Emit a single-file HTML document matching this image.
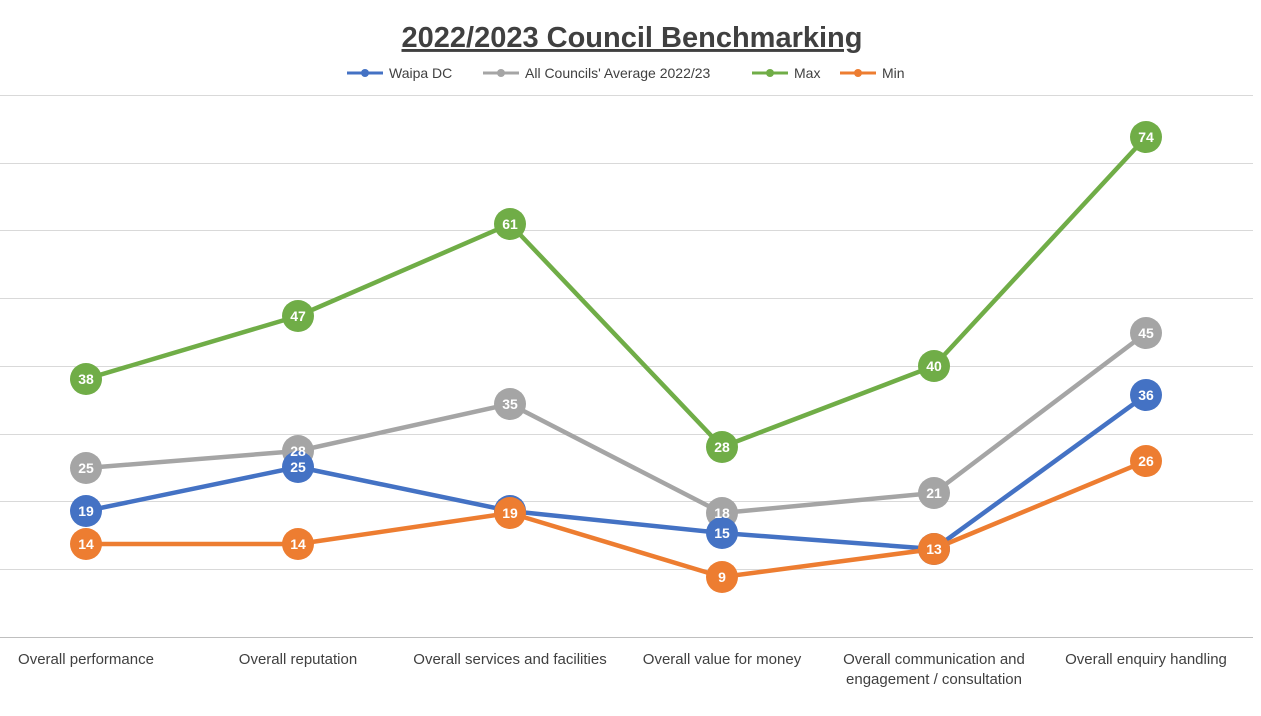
<!DOCTYPE html>
<html><head><meta charset="utf-8"><style>
body{margin:0;background:#fff;}
svg{display:block;font-family:"Liberation Sans",Arial,sans-serif;}
</style></head><body>
<svg width="1261" height="716" viewBox="0 0 1261 716">
<text x="632" y="47" text-anchor="middle" font-size="29" font-weight="bold" fill="#404040" text-decoration="underline">2022/2023 Council Benchmarking</text>
<g font-size="14" fill="#404040">
<line x1="347" y1="73" x2="383" y2="73" stroke="#4472C4" stroke-width="3"/><circle cx="365" cy="73" r="4" fill="#4472C4"/><text x="389" y="78">Waipa DC</text>
<line x1="483" y1="73" x2="519" y2="73" stroke="#A5A5A5" stroke-width="3"/><circle cx="501" cy="73" r="4" fill="#A5A5A5"/><text x="525" y="78">All Councils' Average 2022/23</text>
<line x1="752" y1="73" x2="788" y2="73" stroke="#70AD47" stroke-width="3"/><circle cx="770" cy="73" r="4" fill="#70AD47"/><text x="794" y="78">Max</text>
<line x1="840" y1="73" x2="876" y2="73" stroke="#ED7D31" stroke-width="3"/><circle cx="858" cy="73" r="4" fill="#ED7D31"/><text x="882" y="78">Min</text>
</g>
<g stroke="#d9d9d9" stroke-width="1">
<line x1="0" y1="95.5" x2="1253" y2="95.5"/><line x1="0" y1="163.5" x2="1253" y2="163.5"/><line x1="0" y1="230.5" x2="1253" y2="230.5"/><line x1="0" y1="298.5" x2="1253" y2="298.5"/><line x1="0" y1="366.5" x2="1253" y2="366.5"/><line x1="0" y1="434.5" x2="1253" y2="434.5"/><line x1="0" y1="501.5" x2="1253" y2="501.5"/><line x1="0" y1="569.5" x2="1253" y2="569.5"/>
</g>
<line x1="0" y1="637.5" x2="1253" y2="637.5" stroke="#bfbfbf"/>
<g fill="none" stroke-width="4.5" stroke-linejoin="round">
<polyline stroke="#70AD47" points="86,379 298,316 510,224 722,447 934,366 1146,137"/>
<polyline stroke="#A5A5A5" points="86,468 298,451 510,404 722,513 934,493 1146,333"/>
<polyline stroke="#4472C4" points="86,511 298,467 510,511 722,533 934,549 1146,395"/>
<polyline stroke="#ED7D31" points="86,544 298,544 510,513 722,577 934,549 1146,461"/>
</g>
<g font-size="14" font-weight="bold" fill="#fff" text-anchor="middle">
<g fill="#70AD47"><circle cx="86" cy="379" r="16"/><circle cx="298" cy="316" r="16"/><circle cx="510" cy="224" r="16"/><circle cx="722" cy="447" r="16"/><circle cx="934" cy="366" r="16"/><circle cx="1146" cy="137" r="16"/></g>
<text x="86" y="384">38</text><text x="298" y="321">47</text><text x="510" y="229">61</text><text x="722" y="452">28</text><text x="934" y="371">40</text><text x="1146" y="142">74</text>
<g fill="#A5A5A5"><circle cx="86" cy="468" r="16"/><circle cx="298" cy="451" r="16"/><circle cx="510" cy="404" r="16"/><circle cx="722" cy="513" r="16"/><circle cx="934" cy="493" r="16"/><circle cx="1146" cy="333" r="16"/></g>
<g fill="#4472C4"><circle cx="86" cy="511" r="16"/><circle cx="298" cy="467" r="16"/><circle cx="510" cy="511" r="16"/><circle cx="722" cy="533" r="16"/><circle cx="934" cy="549" r="16"/><circle cx="1146" cy="395" r="16"/></g>
<g fill="#ED7D31"><circle cx="86" cy="544" r="16"/><circle cx="298" cy="544" r="16"/><circle cx="510" cy="513" r="16"/><circle cx="722" cy="577" r="16"/><circle cx="934" cy="549" r="16"/><circle cx="1146" cy="461" r="16"/></g>
<text x="86" y="473">25</text><text x="298" y="456">28</text><text x="510" y="409">35</text><text x="722" y="518">18</text><text x="934" y="498">21</text><text x="1146" y="338">45</text>
<text x="86" y="516">19</text><text x="298" y="472">25</text><text x="722" y="538">15</text><text x="1146" y="400">36</text>
<text x="86" y="549">14</text><text x="298" y="549">14</text><text x="510" y="518">19</text><text x="722" y="582">9</text><text x="934" y="554">13</text><text x="1146" y="466">26</text>
</g>
<g font-size="15" fill="#404040" text-anchor="middle">
<text x="86" y="664">Overall performance</text>
<text x="298" y="664">Overall reputation</text>
<text x="510" y="664">Overall services and facilities</text>
<text x="722" y="664">Overall value for money</text>
<text x="934" y="664">Overall communication and</text>
<text x="934" y="684">engagement / consultation</text>
<text x="1146" y="664">Overall enquiry handling</text>
</g>
</svg>
</body></html>
